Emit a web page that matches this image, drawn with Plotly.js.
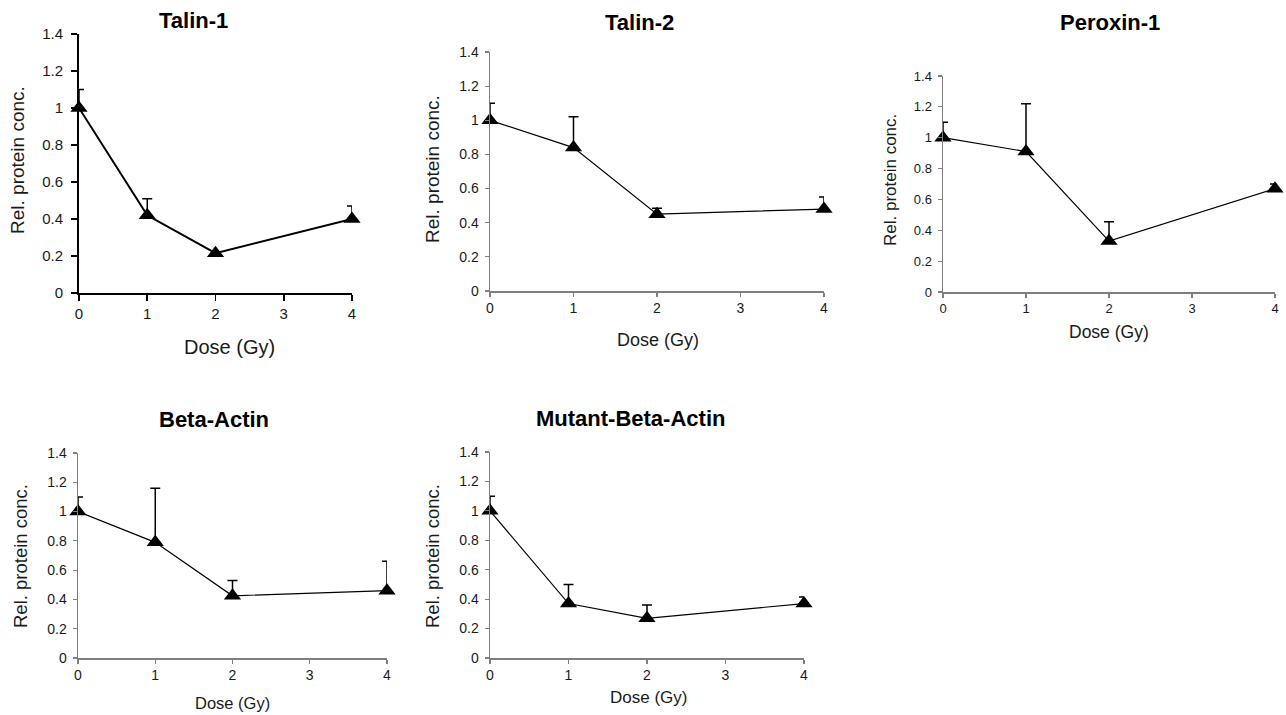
<!DOCTYPE html>
<html>
<head>
<meta charset="utf-8">
<script src="https://cdn.plot.ly/plotly-3.0.1.min.js"></script>
<style>
  html, body { margin: 0; padding: 0; background: #ffffff; }
  #chart { width: 1286px; height: 715px; }
</style>
</head>
<body>
<div id="chart"></div>
<script>
// Radiation dose (Gy) shared by every panel
const doses = [0, 1, 2, 4];
const doseTicks = [0, 1, 2, 3, 4];

// Relative protein concentration and upper error per protein
const talin1 = [1.0, 0.42, 0.215, 0.40];
const talin1Err = [0.10, 0.09, 0.0, 0.07];

const talin2 = [1.0, 0.84, 0.45, 0.48];
const talin2Err = [0.10, 0.18, 0.035, 0.07];

const peroxin1 = [1.0, 0.91, 0.33, 0.67];
const peroxin1Err = [0.10, 0.31, 0.125, 0.03];

const betaActin = [1.0, 0.79, 0.425, 0.46];
const betaActinErr = [0.10, 0.37, 0.105, 0.20];

const mutantBetaActin = [1.0, 0.37, 0.27, 0.37];
const mutantBetaActinErr = [0.10, 0.13, 0.09, 0.045];

const panelTitles = ['Talin-1', 'Talin-2', 'Peroxin-1', 'Beta-Actin', 'Mutant-Beta-Actin'];
const yTitle = 'Rel. protein conc.';
const xTitle = 'Dose (Gy)';

const W = 1286, H = 715;
const FONT = 'Liberation Sans, Arial, Helvetica, sans-serif';
const px = x => x / W;
const py = y => 1 - y / H;

// Panel geometry in page pixels: plot box and label positions
const panels = [
  { y: talin1, err: talin1Err, box: [79, 352, 34, 293], line: '#000000', axisW: 2, seriesW: 2,
    tickSize: 15, tickLen: 6, standoff: 5, title: [193, 20], yt: [18, 160, 19], xt: [229, 347, 20] },
  { y: talin2, err: talin2Err, box: [490, 824, 52, 291], line: '#7f7f7f', axisW: 1.5, seriesW: 1.2,
    tickSize: 14, tickLen: 4, standoff: 3, title: [639, 22], yt: [433, 169, 19], xt: [658, 340, 18] },
  { y: peroxin1, err: peroxin1Err, box: [943, 1275, 76, 292], line: '#7f7f7f', axisW: 1.5, seriesW: 1.2,
    tickSize: 13, tickLen: 4, standoff: 3, title: [1110, 22], yt: [890, 180, 17], xt: [1109, 332, 17.5] },
  { y: betaActin, err: betaActinErr, box: [78, 387, 453, 658], line: '#7f7f7f', axisW: 1.5, seriesW: 1.2,
    tickSize: 14, tickLen: 4, standoff: 3, title: [214, 419], yt: [20, 556, 18.5], xt: [232, 703, 16.5] },
  { y: mutantBetaActin, err: mutantBetaActinErr, box: [490, 804, 452, 658], line: '#7f7f7f', axisW: 1.5, seriesW: 1.2,
    tickSize: 14, tickLen: 4, standoff: 3, title: [630, 418], yt: [432, 556, 18.5], xt: [648, 697, 17] }
];

const traces = [];
const layout = {
  width: W, height: H, autosize: false,
  margin: { l: 0, r: 0, t: 0, b: 0 },
  paper_bgcolor: '#ffffff', plot_bgcolor: '#ffffff',
  showlegend: false,
  font: { family: FONT, color: '#1a1a1a' },
  annotations: []
};

panels.forEach((p, i) => {
  const n = i === 0 ? '' : String(i + 1);
  traces.push({
    type: 'scatter', mode: 'lines+markers',
    x: doses, y: p.y,
    xaxis: 'x' + n, yaxis: 'y' + n,
    cliponaxis: false,
    line: { color: '#000000', width: p.seriesW },
    marker: { symbol: 'triangle-up', size: 15, color: '#000000' },
    error_y: { type: 'data', symmetric: false, array: p.err, arrayminus: doses.map(() => 0),
               color: '#000000', thickness: 1.5, width: 5 },
    hoverinfo: 'x+y'
  });
  const [x0, x1, y0, y1] = p.box;
  layout['xaxis' + n] = {
    domain: [px(x0), px(x1)], anchor: 'y' + n,
    range: [0, 4], tickvals: doseTicks, ticktext: doseTicks.map(String),
    showline: true, linecolor: p.line, linewidth: p.axisW,
    ticks: 'outside', ticklen: p.tickLen, tickwidth: p.axisW * 0.8, tickcolor: p.line,
    showgrid: false, zeroline: false, fixedrange: true,
    tickfont: { size: p.tickSize, family: FONT, color: '#1a1a1a' }
  };
  layout['yaxis' + n] = {
    domain: [py(y1), py(y0)], anchor: 'x' + n,
    range: [0, 1.4], dtick: 0.2, tick0: 0,
    showline: true, linecolor: p.line, linewidth: p.axisW,
    ticks: 'outside', ticklen: p.tickLen, tickwidth: p.axisW * 0.8, tickcolor: p.line,
    ticklabelstandoff: p.standoff,
    showgrid: false, zeroline: false, fixedrange: true,
    tickfont: { size: p.tickSize, family: FONT, color: '#1a1a1a' }
  };
  layout.annotations.push(
    { text: '<b>' + panelTitles[i] + '</b>', xref: 'paper', yref: 'paper',
      x: px(p.title[0]), y: py(p.title[1]), xanchor: 'center', yanchor: 'middle',
      showarrow: false, font: { size: 22, family: FONT, color: '#000000' } },
    { text: yTitle, xref: 'paper', yref: 'paper', textangle: -90,
      x: px(p.yt[0]), y: py(p.yt[1]), xanchor: 'center', yanchor: 'middle',
      showarrow: false, font: { size: p.yt[2], family: FONT, color: '#1a1a1a' } },
    { text: xTitle, xref: 'paper', yref: 'paper',
      x: px(p.xt[0]), y: py(p.xt[1]), xanchor: 'center', yanchor: 'middle',
      showarrow: false, font: { size: p.xt[2], family: FONT, color: '#1a1a1a' } }
  );
});

Plotly.newPlot('chart', traces, layout, { displayModeBar: false, staticPlot: true });
</script>
</body>
</html>
